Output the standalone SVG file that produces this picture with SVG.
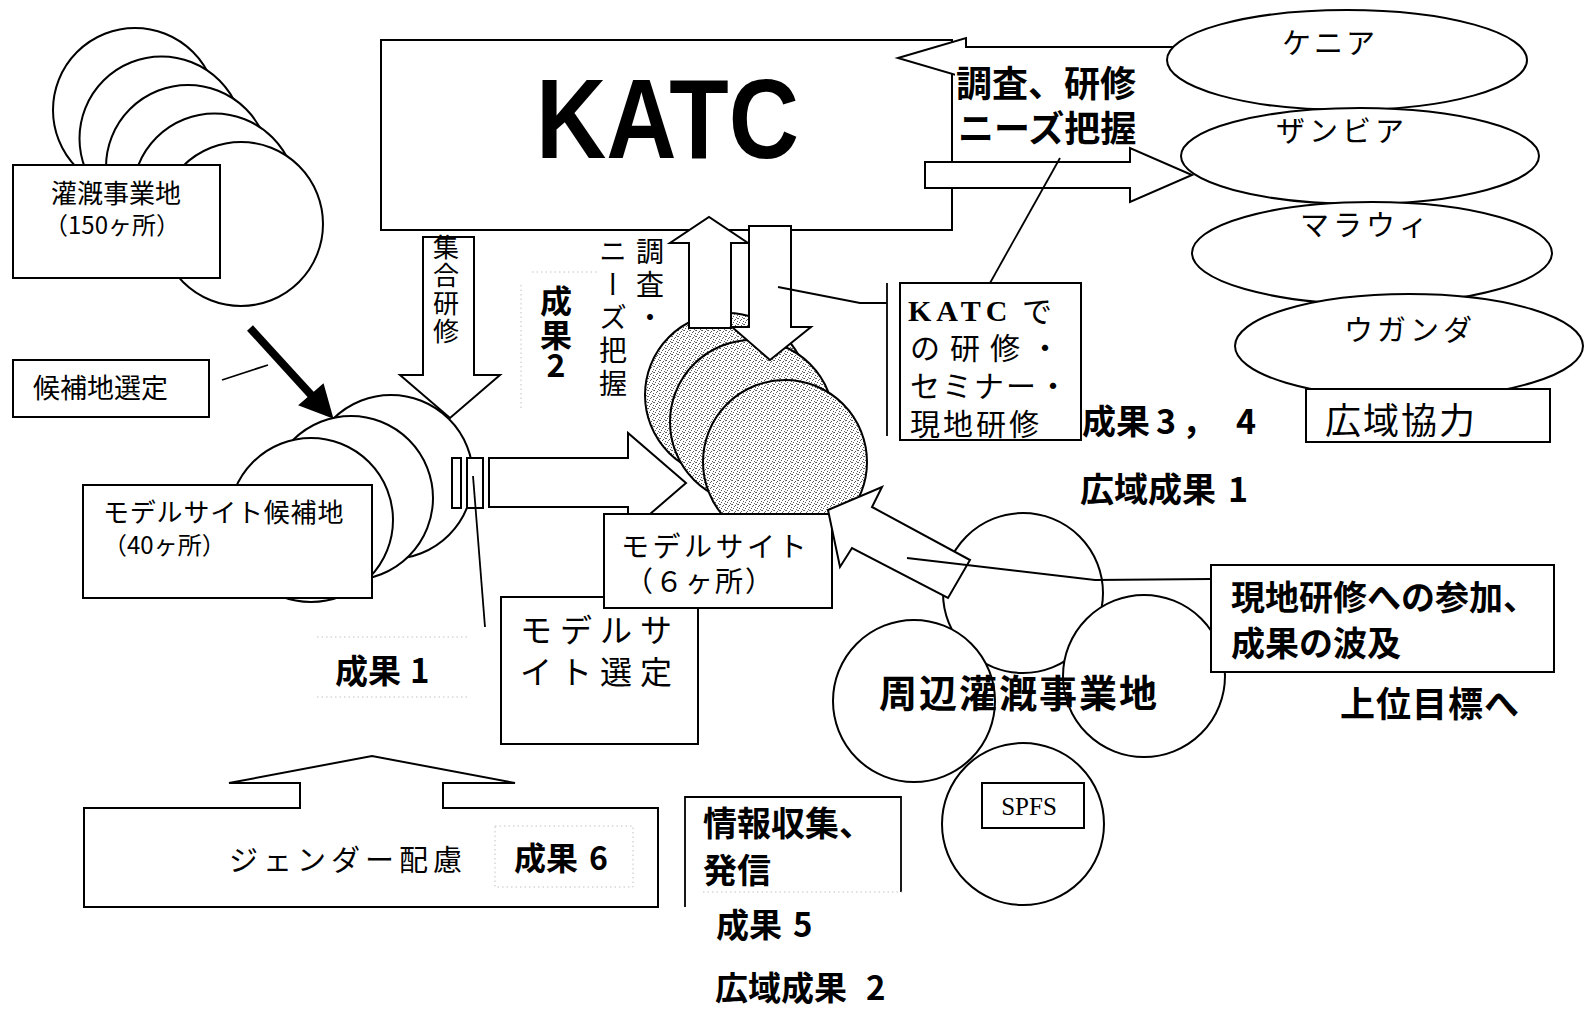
<svg xmlns="http://www.w3.org/2000/svg" width="1585" height="1010" viewBox="0 0 1585 1010">
<defs>
<pattern id="stip" width="6" height="6" patternUnits="userSpaceOnUse">
<rect width="6" height="6" fill="#fff"/>
<rect x="0" y="0" width="1" height="1" fill="#555"/>
<rect x="3" y="1" width="1" height="1" fill="#555"/>
<rect x="5" y="3" width="1" height="1" fill="#555"/>
<rect x="1" y="4" width="1" height="1" fill="#555"/>
<rect x="4" y="5" width="1" height="1" fill="#666"/>
<rect x="2" y="2" width="1" height="1" fill="#666"/>
<rect x="5" y="0" width="1" height="1" fill="#777"/>
</pattern>
<style>
.s{fill:#fff;stroke:#000;stroke-width:2}
.st{fill:url(#stip);stroke:#000;stroke-width:2}
.ln{fill:none;stroke:#000;stroke-width:1.8}
.dot{fill:none;stroke:#c2c2c2;stroke-width:1;stroke-dasharray:1.5 3}
.n{font-family:"Noto Sans CJK JP","Noto Sans CJK SC",sans-serif;font-weight:400;fill:#000}
.b{font-family:"Noto Sans CJK JP","Noto Sans CJK SC",sans-serif;font-weight:700;fill:#000}
.v{writing-mode:vertical-rl}
</style>
</defs>
<rect width="1585" height="1010" fill="#fff"/>

<!-- Irrigation sites (150) -->
<g id="irrigation-sites">
<circle class="s" cx="135" cy="110" r="82"/>
<circle class="s" cx="161.5" cy="138.5" r="82"/>
<circle class="s" cx="188" cy="167" r="82"/>
<circle class="s" cx="214.5" cy="195.5" r="82"/>
<circle class="s" cx="241" cy="224" r="82"/>
<rect class="s" x="13" y="165" width="207" height="113"/>
<text class="n" x="116" y="203" font-size="26" text-anchor="middle">灌漑事業地</text>
<text class="n" x="112" y="234" font-size="24" text-anchor="middle">（150ヶ所）</text>
</g>

<!-- Candidate selection label -->
<g id="candidate-selection">
<rect class="s" x="13" y="360" width="196" height="57"/>
<text class="n" x="33" y="398" font-size="27">候補地選定</text>
</g>

<!-- KATC -->
<g id="katc">
<rect class="s" x="381" y="40" width="571" height="190"/>
<text x="536" y="158" font-family="Liberation Sans, Arial, sans-serif" font-weight="700" font-size="113" textLength="263" lengthAdjust="spacingAndGlyphs">KATC</text>
</g>

<!-- Model site candidates (40) -->
<g id="candidate-sites">
<circle class="s" cx="391" cy="477" r="82"/>
<circle class="s" cx="351" cy="498" r="82"/>
<circle class="s" cx="311" cy="520" r="82"/>
<rect class="s" x="83" y="485" width="289" height="113"/>
<text class="n" x="103" y="522" font-size="26" letter-spacing="0.8">モデルサイト候補地</text>
<text class="n" x="103" y="554" font-size="24">（40ヶ所）</text>
</g>

<!-- Model sites (stippled) -->
<g id="model-site-circles">
<circle class="st" cx="727" cy="395" r="82"/>
<circle class="st" cx="752" cy="422" r="82"/>
<circle class="st" cx="785" cy="462" r="82"/>
</g>

<g id="kenya-arrow-group">
<polygon class="s" points="898,58 966,38 966,47 1185,47 1185,69 966,69 966,78"/>
</g>

<g id="connectors">
<polygon class="s" points="925,162 1130,162 1130,148 1192,175 1130,202 1130,188 925,188"/>
<polygon class="s" points="423,237 474,237 474,375 500,375 450,418 400,375 423,375"/>
<rect class="s" x="452" y="458" width="9" height="50"/>
<rect class="s" x="467" y="458" width="16" height="50"/>
<polygon class="s" points="489,458 628,458 628,433 686,483 628,533 628,507 489,507"/>
<polygon class="s" points="689,328 689,243 670,243 709,217 748,243 731,243 731,328"/>
<polygon class="s" points="749,226 791,226 791,327 811,327 770,360 732,327 749,327"/>
<line x1="250" y1="328" x2="313" y2="397" stroke="#000" stroke-width="8"/>
<polygon points="300,405 323,385 332,417" fill="#000" stroke="#000" stroke-width="2"/>
<line class="ln" x1="222" y1="380" x2="268" y2="365"/>
</g>

<g id="survey-label">
<rect x="955" y="61" width="225" height="85" fill="#fff"/>
<text class="b" x="956" y="97" font-size="36">調査、研修</text>
<text class="b" x="958" y="142" font-size="36">ニーズ把握</text>
</g>

<g id="countries">
<ellipse class="s" cx="1347" cy="60" rx="180" ry="50"/>
<text class="n" x="1330" y="54" font-size="29" letter-spacing="3" text-anchor="middle">ケニア</text>
<ellipse class="s" cx="1360" cy="156" rx="179" ry="48"/>
<text class="n" x="1342" y="142" font-size="29" letter-spacing="4" text-anchor="middle">ザンビア</text>
<ellipse class="s" cx="1372" cy="253" rx="180" ry="51"/>
<text class="n" x="1366" y="236" font-size="29" letter-spacing="4" text-anchor="middle">マラウィ</text>
<ellipse class="s" cx="1409" cy="346" rx="174" ry="52"/>
<text class="n" x="1410" y="341" font-size="29" letter-spacing="4" text-anchor="middle">ウガンダ</text>
</g>

<g id="regional-cooperation">
<rect class="s" x="1306" y="389" width="244" height="53"/>
<text class="n" x="1325" y="434" font-size="36" letter-spacing="2">広域協力</text>
</g>

<g id="callouts">
<line class="ln" x1="1060" y1="158" x2="990" y2="283"/>
<polyline class="ln" points="778,287 860,303 887,303"/>
<line class="ln" x1="887" y1="283" x2="887" y2="436"/>
<line class="ln" x1="473" y1="476" x2="485" y2="627"/>
</g>

<g id="katc-training">
<rect class="s" x="900" y="283" width="181" height="157"/>
<text x="908" y="321" font-family="Liberation Serif, 'Times New Roman', serif" font-weight="700" font-size="30" letter-spacing="5">KATC</text>
<text class="n" x="1022" y="322" font-size="30">で</text>
<text class="n" font-size="30" y="359"><tspan x="910">の</tspan><tspan x="950">研</tspan><tspan x="990">修</tspan><tspan x="1030">・</tspan></text>
<text class="n" font-size="30" y="397"><tspan x="910">セ</tspan><tspan x="942">ミ</tspan><tspan x="974">ナ</tspan><tspan x="1006">ー</tspan><tspan x="1038">・</tspan></text>
<text class="n" x="910" y="435" font-size="30" letter-spacing="3">現地研修</text>
</g>

<g id="outcome-3-4">
<text class="b" font-size="34" y="434"><tspan x="1082">成果</tspan><tspan x="1156">3</tspan><tspan x="1182">，</tspan><tspan x="1236">4</tspan></text>
</g>
<g id="regional-outcome-1">
<text class="b" font-size="34" y="502"><tspan x="1080">広域成果</tspan><tspan x="1228">1</tspan></text>
</g>

<g id="collective-training-label">
<text class="n v" x="446" y="234" font-size="26" letter-spacing="2">集合研修</text>
</g>
<g id="outcome-2">
<line class="dot" x1="532" y1="272" x2="598" y2="272"/>
<line class="dot" x1="521" y1="285" x2="521" y2="410"/>
<text class="b" x="556" y="313" font-size="32" text-anchor="middle">成</text>
<text class="b" x="556" y="347" font-size="32" text-anchor="middle">果</text>
<text class="b" x="556" y="377" font-size="32" text-anchor="middle">2</text>
</g>
<g id="survey-needs-label">
<text class="n v" x="650" y="237" font-size="28" letter-spacing="5">調査・</text>
<text class="n v" x="613" y="237" font-size="28" letter-spacing="5">ニーズ把握</text>
</g>

<g id="model-site-selection">
<rect class="s" x="501" y="597" width="197" height="147"/>
<text class="n" x="520" y="642" font-size="32" letter-spacing="8">モデルサ</text>
<text class="n" x="520" y="684" font-size="32" letter-spacing="8">イト選定</text>
</g>

<g id="model-sites">
<rect class="s" x="604" y="514" width="228" height="94"/>
<text class="n" x="621" y="557" font-size="28" letter-spacing="3.5">モデルサイト</text>
<text class="n" x="700" y="592" font-size="28" letter-spacing="2" text-anchor="middle">（６ヶ所）</text>
</g>

<g id="outcome-1">
<line class="dot" x1="317" y1="637" x2="468" y2="637"/>
<line class="dot" x1="317" y1="697" x2="468" y2="697"/>
<text class="b" font-size="33" y="683"><tspan x="335">成果</tspan><tspan x="410">1</tspan></text>
</g>

<g id="peripheral-sites">
<circle class="s" cx="1023" cy="593" r="80"/>
<circle class="s" cx="1023" cy="824" r="81"/>
<circle class="s" cx="914" cy="701" r="81"/>
<circle class="s" cx="1144" cy="676" r="81"/>
<rect class="s" x="982" y="783" width="102" height="45"/>
<text x="1029" y="815" font-family="Liberation Serif, 'Times New Roman', serif" font-size="25" text-anchor="middle">SPFS</text>
</g>

<g id="spread-arrow">
<polygon class="s" points="828,510 882,487 872,507 970,560 948,598 852,548 840,567"/>
</g>

<g id="onsite-participation">
<polyline class="ln" points="1211,579 1095,580 907,558"/>
<rect class="s" x="1211" y="565" width="343" height="107"/>
<text class="b" x="1231" y="610" font-size="34">現地研修への参加、</text>
<text class="b" x="1231" y="656" font-size="34">成果の波及</text>
</g>

<g id="peripheral-label">
<text class="b" x="879" y="707" font-size="38" letter-spacing="2">周辺灌漑事業地</text>
</g>

<g id="upper-goal">
<text class="b" x="1340" y="717" font-size="35" letter-spacing="1">上位目標へ</text>
</g>

<g id="gender">
<polygon class="s" points="84,808 300,808 300,783 229,783 372,756 515,783 443,783 443,808 658,808 658,907 84,907"/>
<text class="n" x="229" y="871" font-size="29" letter-spacing="5">ジェンダー配慮</text>
<rect class="dot" x="495" y="826" width="138" height="61"/>
<text class="b" font-size="32" y="870"><tspan x="514">成果</tspan><tspan x="589">6</tspan></text>
</g>

<g id="information">
<path class="ln" d="M685,907 V797 H901 V892" fill="#fff"/>
<text class="b" x="703" y="836" font-size="34">情報収集、</text>
<text class="b" x="703" y="883" font-size="34">発信</text>
<rect x="688" y="892" width="220" height="50" fill="#fff"/>
<line class="dot" x1="703" y1="892" x2="903" y2="892"/>
<text class="b" font-size="33" y="937"><tspan x="716">成果</tspan><tspan x="793">5</tspan></text>
<text class="b" font-size="33" y="1000"><tspan x="715">広域成果</tspan><tspan x="866">2</tspan></text>
</g>
</svg>
